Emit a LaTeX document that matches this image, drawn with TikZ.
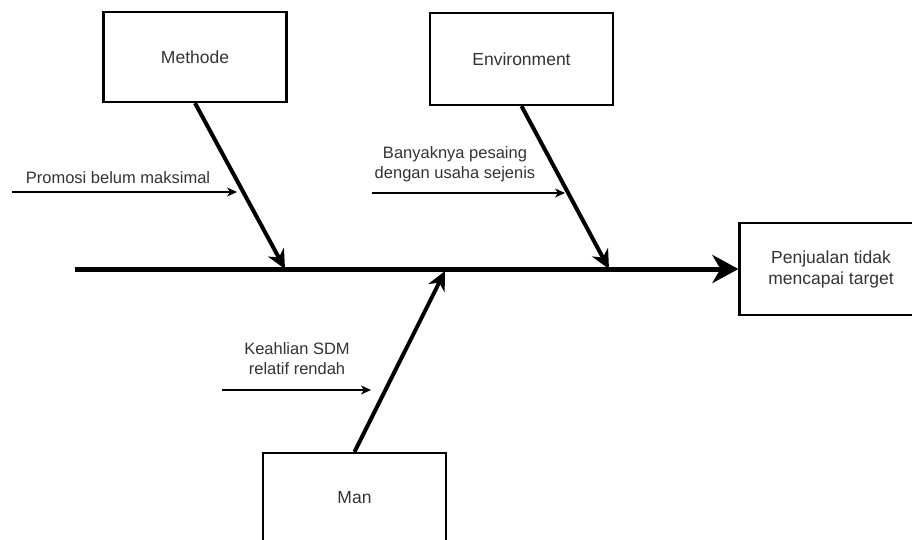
\documentclass[tikz,border=0pt]{standalone}
\usepackage{fontspec}
\setmainfont{Liberation Sans}
\usepackage{tikz}
\usetikzlibrary{arrows.meta,positioning}
\definecolor{labelgray}{HTML}{333333}

\begin{document}
\begin{tikzpicture}[x=1pt,y=-1pt,
    cause/.style={draw, line width=2.2pt, minimum width=183pt, minimum height=#1,
                  font=\fontsize{17.5}{21}\selectfont, text=labelgray, align=center},
    cause/.default=90pt,
    spine/.style={-{Stealth[length=26pt,width=28pt,inset=8pt]}, line width=5pt},
    bone/.style={-{Stealth[length=19pt,width=18pt,inset=6pt]}, line width=4pt},
    sub/.style={-{Stealth[length=10pt,width=9pt,inset=3pt]}, line width=1.2pt},
    slbl/.style={font=\fontsize{16.5}{20}\selectfont, text=labelgray, align=center, inner sep=0pt}
  ]
    \clip (0,0) rectangle (912,540);

    % effect and the main spine
    \node[cause=92pt] (effect) at (831,269) {Penjualan tidak\\mencapai target};
    \coordinate (tail) at (75,269);
    \draw[spine] (tail) -- (effect.west);

    % categories
    \node[cause]      (methode) at (195,57)    {Methode};
    \node[cause=92pt] (env)     at (521.5,59)  {Environment};
    \node[cause]      (man)     at (354.5,498) {Man};

    \coordinate (mhit) at (285,269);
    \coordinate (ehit) at (609,269);
    \coordinate (nhit) at (445,271);
    \draw[bone] (methode.south) -- (mhit);
    \draw[bone] (env.south) -- (ehit);
    \draw[bone] (man.north) -- (nhit);

    % sub causes
    \node[slbl] (promosi) at (118,178) {Promosi belum maksimal};
    \coordinate (p0) at (12,192);
    \coordinate (p1) at (237,192);
    \draw[sub] (p0) -- (p1);

    \node[slbl] (pesaing) at (455,164) {Banyaknya pesaing\\dengan usaha sejenis};
    \coordinate (q0) at (372,193);
    \coordinate (q1) at (565,193);
    \draw[sub] (q0) -- (q1);

    \node[slbl] (sdm) at (297,359) {Keahlian SDM\\relatif rendah};
    \coordinate (r0) at (222,390);
    \coordinate (r1) at (371,390);
    \draw[sub] (r0) -- (r1);
\end{tikzpicture}
\end{document}
